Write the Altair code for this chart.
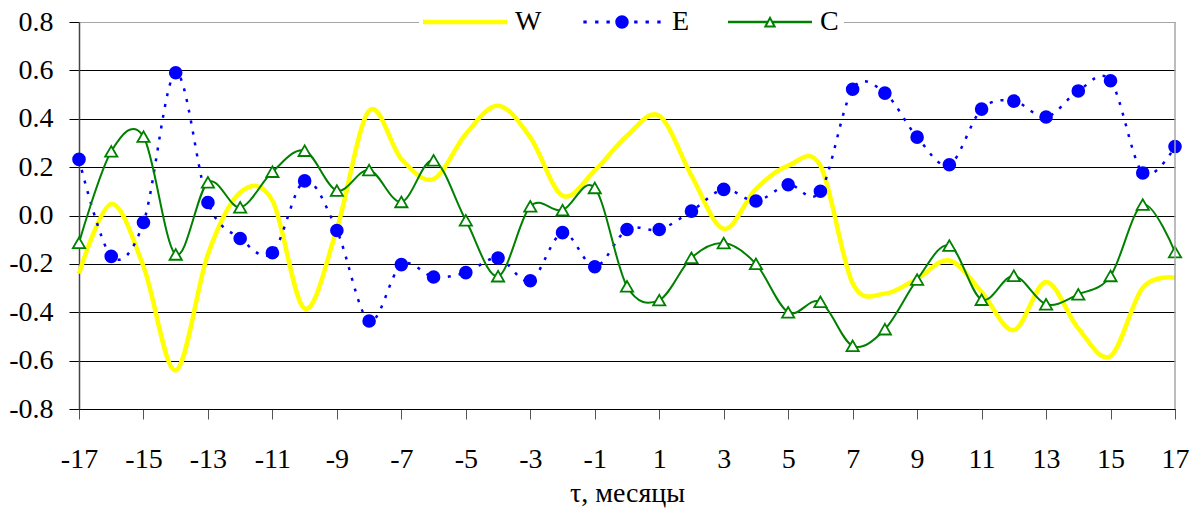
import altair as alt
import pandas as pd

tau = list(range(-17, 18))
series_names = ["W", "E", "C"]
W = [-0.24, 0.048, -0.21, -0.64, -0.16, 0.095, 0.062, -0.385, -0.055, 0.433,
     0.234, 0.151, 0.337, 0.454, 0.323, 0.082, 0.186, 0.33, 0.412, 0.165,
     -0.055, 0.11, 0.206, 0.206, -0.28, -0.323, -0.261, -0.186, -0.316, -0.474,
     -0.275, -0.467, -0.581, -0.298, -0.257]
E = [0.232, -0.169, -0.029, 0.59, 0.054, -0.095, -0.154, 0.143, -0.062, -0.436,
     -0.203, -0.254, -0.236, -0.176, -0.27, -0.071, -0.212, -0.058, -0.058, 0.018,
     0.108, 0.06, 0.127, 0.1, 0.522, 0.506, 0.324, 0.21, 0.44, 0.473,
     0.407, 0.515, 0.557, 0.176, 0.285]
C = [-0.113, 0.265, 0.326, -0.161, 0.137, 0.034, 0.181, 0.268, 0.103, 0.188,
     0.056, 0.228, -0.02, -0.251, 0.038, 0.022, 0.114, -0.293, -0.35, -0.175,
     -0.114, -0.2, -0.4, -0.357, -0.539, -0.47, -0.265, -0.124, -0.348, -0.249,
     -0.367, -0.326, -0.25, 0.045, -0.151]
y_ticks = [-0.8, -0.6, -0.4, -0.2, 0.0, 0.2, 0.4, 0.6, 0.8]
x_title = "τ, месяцы"

rows = []
for name, vals in zip(series_names, [W, E, C]):
    for t, v in zip(tau, vals):
        rows.append({"tau": t, "value": v, "series": name})
df = pd.DataFrame(rows)

FONT = "Liberation Serif"
YELLOW, BLUE, GREEN = "#ffff00", "#0000ff", "#008000"

x_enc = alt.X("tau:Q",
              scale=alt.Scale(domain=[-17, 17], nice=False, zero=False),
              axis=alt.Axis(values=tau, grid=False, tickSize=10, tickColor="#555555",
                            tickWidth=1, domainColor="black", domainWidth=1,
                            labelExpr="abs(datum.value) % 2 == 0 ? '' : (datum.value < 0 ? '-' : '') + abs(datum.value)",
                            labelFont=FONT, labelFontSize=28, labelColor="black",
                            labelPadding=26, labelFlush=False, labelOverlap=False,
                            title=x_title, titleFont=FONT, titleFontSize=28,
                            titleFontWeight="normal", titleColor="black",
                            titleBaseline="alphabetic", titleY=92))
y_enc = alt.Y("value:Q",
              scale=alt.Scale(domain=[-0.8, 0.8], nice=False, zero=False),
              axis=alt.Axis(values=y_ticks, grid=True,
                            gridColor={"condition": {"test": "datum.value > 0.7", "value": "#a6a6a6"},
                                       "value": "black"},
                            gridWidth=1, tickSize=10, tickColor="black", tickWidth=1,
                            domainColor="#444444", domainWidth=1.5,
                            labelExpr="(datum.value < -0.01 ? '-' : '') + format(abs(datum.value), '.1f')",
                            labelFont=FONT, labelFontSize=28, labelColor="black",
                            labelPadding=16, labelFlush=False, labelOverlap=False,
                            title=None))

base = alt.Chart(df)

w_line = base.transform_filter(alt.datum.series == "W").mark_line(
    interpolate="cardinal", color=YELLOW, strokeWidth=4.5).encode(x=x_enc, y=y_enc)
e_line = base.transform_filter(alt.datum.series == "E").mark_line(
    interpolate="cardinal", color=BLUE, strokeWidth=2.5, strokeDash=[3, 8]).encode(x=x_enc, y=y_enc)
e_pts = base.transform_filter(alt.datum.series == "E").mark_point(
    shape="circle", filled=True, color=BLUE, size=185, opacity=1).encode(x=x_enc, y=y_enc)
c_line = base.transform_filter(alt.datum.series == "C").mark_line(
    interpolate="cardinal", color=GREEN, strokeWidth=2).encode(x=x_enc, y=y_enc)
c_pts = base.transform_filter(alt.datum.series == "C").mark_point(
    shape="triangle-up", filled=True, fill="white", stroke=GREEN, strokeWidth=1.8,
    size=150, opacity=1).encode(x=x_enc, y=y_enc)
right_border = alt.Chart(pd.DataFrame({"tau": [17]})).mark_rule(
    color="#a6a6a6", strokeWidth=1.5).encode(x=alt.X("tau:Q", scale=alt.Scale(domain=[-17, 17], nice=False, zero=False)))

# legend symbols (custom paths in unit coordinates)
path_w = "M-1,-0.055L1,-0.055L1,0.055L-1,0.055Z"
dash_centres = [-0.88, -0.6, -0.33, 0.33, 0.6, 0.88]
path_e = "".join(f"M{c-0.04:.3f},-0.036h0.08v0.072h-0.08Z" for c in dash_centres)
path_e += "M-0.16,0A0.16,0.16,0,1,0,0.16,0A0.16,0.16,0,1,0,-0.16,0Z"
path_c = ("M-1,-0.03H-0.06V0.03H-1Z"
          "M0.06,-0.03H1V0.03H0.06Z"
          "M0,-0.15L0.15,0.13L-0.15,0.13Z"
          "M0,-0.049L-0.07,0.082L0.07,0.082Z")

leg = alt.Legend(orient="none", legendX=340, legendY=-46, direction="horizontal",
                 columns=3, title=None, symbolSize=7056, symbolStrokeWidth=0,
                 symbolOpacity=1, labelFont=FONT, labelFontSize=28, labelColor="black",
                 labelOffset=8, columnPadding=38, padding=4, fillColor="white",
                 labelLimit=0, strokeColor="white")

legend_layer = base.transform_filter("datum.tau > 1000").mark_point(
    filled=True, opacity=1, strokeWidth=0).encode(
    x=x_enc, y=y_enc,
    color=alt.Color("series:N", scale=alt.Scale(domain=series_names, range=[YELLOW, BLUE, GREEN]), legend=leg),
    shape=alt.Shape("series:N", scale=alt.Scale(domain=series_names, range=[path_w, path_e, path_c]), legend=leg),
)

chart = alt.layer(w_line, e_line, e_pts, c_line, c_pts, right_border, legend_layer).properties(
    width=1096, height=387,
    autosize=alt.AutoSizeParams(type="none"),
    padding={"left": 79, "top": 22, "right": 23, "bottom": 100},
    background="white",
).configure_view(stroke=None)

chart.save("out.html", embed_options={"renderer": "svg", "actions": False})
